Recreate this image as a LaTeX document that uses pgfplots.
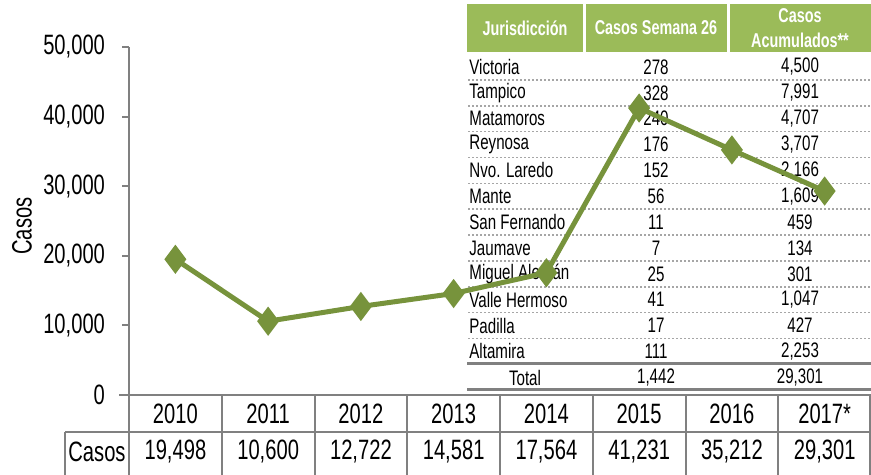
\documentclass[border=0pt]{standalone}
\usepackage{fontspec}
\setmainfont{Liberation Sans}[FakeStretch=0.72]
\usepackage{pgfplots}
\pgfplotsset{compat=1.18}
\definecolor{lineG}{RGB}{119,147,60}
\definecolor{headG}{RGB}{155,187,89}
\definecolor{rule}{RGB}{128,128,128}
\newcommand{\bodyfont}{\fontsize{10.5}{10.5}\selectfont}
\newcommand{\headfont}{\fontsize{10}{10}\selectfont\bfseries}
\newcommand{\bigfont}{\fontsize{14}{14}\selectfont}

\begin{document}
\begin{tikzpicture}[x=0.5pt,y=0.5pt]
\useasboundingbox (0,0) rectangle (871,475);

% tabla por jurisdiccion (detras de la linea)
\fill[headG] (467,471) rectangle (583,423);
\fill[headG] (586,471) rectangle (727,423);
\fill[headG] (730,471) rectangle (871,423);
\node[white,font=\headfont] at (525,447) {Jurisdicción};
\node[white,font=\headfont] at (656,447) {Casos Semana 26};
\node[white,font=\headfont] at (800,459) {Casos};
\node[white,font=\headfont] at (800,435) {Acumulados**};
\foreach \n/\s/\a [count=\i from 0] in {Victoria/278/{4,500},Tampico/328/{7,991},Matamoros/240/{4,707},Reynosa/176/{3,707},Nvo. Laredo/152/{2,166},Mante/56/{1,609},San Fernando/11/459,Jaumave/7/134,Miguel Alemán/25/301,Valle Hermoso/41/{1,047},Padilla/17/427,Altamira/111/{2,253}}{
  \node[anchor=west,inner sep=0pt,font=\bodyfont] at (469,408-25.85*\i) {\n};
  \node[font=\bodyfont] at (656,408-25.85*\i) {\s};
  \node[font=\bodyfont] at (800,408-25.85*\i) {\a};
}
\foreach \i in {0,...,10}{
  \draw[rule!70,line width=0.8pt,dash pattern=on 1pt off 1pt] (468,395-25.85*\i) -- (871,395-25.85*\i);
}
\draw[rule,line width=1.5pt] (467,111) -- (871,111);
\draw[rule,line width=1.5pt] (467,85) -- (871,85);
\node[font=\bodyfont] at (525,97) {Total};
\node[font=\bodyfont] at (656,97) {1,442};
\node[font=\bodyfont] at (800,97) {29,301};

\begin{axis}[
  at={(64.5pt,40pt)}, anchor=south west,
  scale only axis, width=371pt, height=174pt,
  xmin=-0.5, xmax=7.5, ymin=0, ymax=50000,
  axis x line=none, axis y line=left,
  axis line style={rule,line width=1pt,-},
  xtick=\empty,
  ytick={0,10000,20000,30000,40000,50000},
  tick align=outside, major tick length=3.5pt,
  tick style={rule,line width=1pt},
  scaled y ticks=false,
  yticklabel style={font=\bigfont,xshift=-5pt},
  /pgf/number format/.cd, 1000 sep={,}, assume math mode=true,
  /pgfplots/.cd,
  clip=false,
]
\addplot[lineG,line width=2.5pt,mark=diamond*,mark size=5.25pt,mark options={solid}]
  coordinates {(0,19498) (1,10600) (2,12722) (3,14581) (4,17564) (5,41231) (6,35212) (7,29301)};
\end{axis}

\node[rotate=90,font=\bigfont] at (22,249) {Casos};

% tabla de datos bajo el eje
\draw[rule,line width=1pt] (119,80) -- (871,80);
\draw[rule,line width=1pt] (65,43) -- (871,43);
\draw[rule,line width=1pt] (65,43) -- (65,0);
\foreach \k in {0,...,7}{
  \draw[rule,line width=1pt] (129+92.75*\k,80) -- (129+92.75*\k,0);
}
\draw[rule,line width=1pt] (870,80) -- (870,0);
\node[font=\bigfont] at (97,23) {Casos};
\foreach \y/\v [count=\k from 0] in {2010/{19,498},2011/{10,600},2012/{12,722},2013/{14,581},2014/{17,564},2015/{41,231},2016/{35,212},2017*/{29,301}}{
  \node[font=\bigfont] at (175.4+92.75*\k,61) {\y};
  \node[font=\bigfont] at (175.4+92.75*\k,23) {\v};
}
\end{tikzpicture}
\end{document}
